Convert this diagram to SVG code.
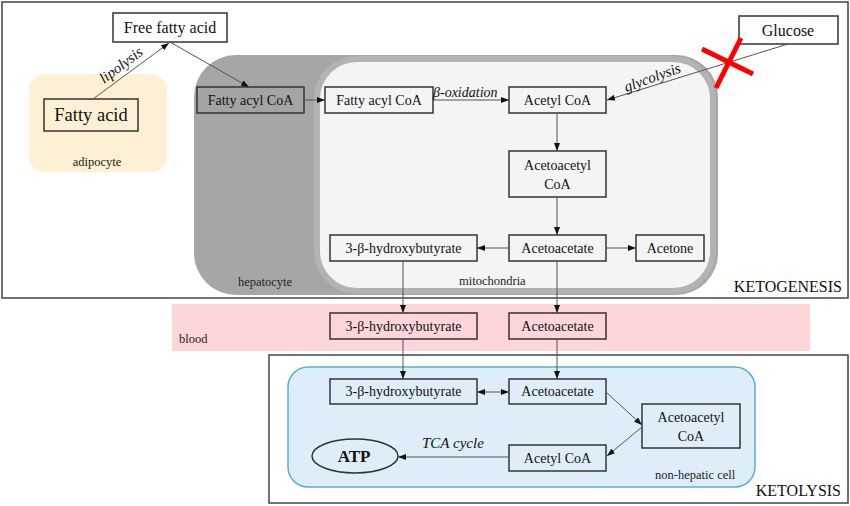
<svg xmlns="http://www.w3.org/2000/svg" width="850" height="506" viewBox="0 0 850 506">
<style>
text{font-family:"Liberation Serif","Times New Roman",serif;fill:#111}
.lb{font-size:14px;text-anchor:middle}
.sm{font-size:12.5px;fill:#222}
.it{font-style:italic}
.box{stroke:#333;stroke-width:1.5}
.c{fill:none;stroke:#555;stroke-width:1}
</style>
<defs>
<marker id="ah" viewBox="0 0 8 6" refX="8" refY="3" markerWidth="8" markerHeight="6" markerUnits="userSpaceOnUse" orient="auto-start-reverse">
<path d="M0,0 L8,3 L0,6 Z" fill="#111"/>
</marker>
</defs>
<g id="ketogenesis-frame">
<rect x="2" y="2" width="846" height="296" fill="#fff" stroke="#444" stroke-width="1.5"/>
<text x="842" y="292" font-size="16" text-anchor="end">KETOGENESIS</text>
</g>
<g id="blood-band">
<rect x="172" y="304" width="638" height="47" fill="#fdd6d9"/>
<text class="sm" x="179" y="343">blood</text>
</g>
<g id="ketolysis-frame">
<rect x="269" y="355" width="579" height="148" fill="#fff" stroke="#444" stroke-width="1.5"/>
<text x="841" y="496" font-size="16" text-anchor="end">KETOLYSIS</text>
</g>
<g id="adipocyte">
<rect x="29" y="74" width="138" height="98" rx="16" fill="#fdf0d4"/>
<text class="sm" x="97" y="166" text-anchor="middle">adipocyte</text>
</g>
<g id="hepatocyte">
<rect x="194" y="55" width="524" height="240" rx="42" fill="#a6a6a6"/>
<text class="sm" x="238" y="286">hepatocyte</text>
</g>
<g id="mitochondria">
<rect x="317" y="59" width="396" height="232" rx="40" fill="#f4f4f4" stroke="#b3b3b3" stroke-width="6"/>
<text class="sm" x="459" y="285">mitochondria</text>
</g>
<g id="non-hepatic-cell">
<rect x="288" y="367" width="467" height="120" rx="20" fill="#deeef8" stroke="#5aaed6" stroke-width="1.5"/>
<text class="sm" x="655" y="479">non-hepatic cell</text>
</g>
<g id="free-fatty-acid">
<rect class="box" x="113" y="13" width="114" height="29" fill="#fff"/>
<text x="170" y="33" font-size="16" text-anchor="middle">Free fatty acid</text>
</g>
<g id="fatty-acid">
<rect class="box" x="44" y="99" width="94" height="32" fill="#fdf0d4"/>
<text x="91" y="121" font-size="18.5" text-anchor="middle">Fatty acid</text>
</g>
<g id="glucose">
<rect class="box" x="739" y="16" width="99" height="28" fill="#fff"/>
<text x="788" y="36" font-size="16" text-anchor="middle">Glucose</text>
</g>
<g id="fatty-acyl-coa-hep">
<rect class="box" x="197" y="87" width="107" height="26" fill="#a4a4a4"/>
<text class="lb" x="250.5" y="105">Fatty acyl CoA</text>
</g>
<g id="fatty-acyl-coa-mito">
<rect class="box" x="325" y="87" width="108" height="26" fill="#f4f4f4"/>
<text class="lb" x="379" y="105">Fatty acyl CoA</text>
</g>
<g id="acetyl-coa-mito">
<rect class="box" x="509" y="87" width="97" height="26" fill="#f4f4f4"/>
<text class="lb" x="557.5" y="105">Acetyl CoA</text>
</g>
<g id="acetoacetyl-coa-mito">
<rect class="box" x="509" y="151" width="97" height="46" fill="#f4f4f4"/>
<text class="lb" x="557.5" y="170">Acetoacetyl</text>
<text class="lb" x="557.5" y="189">CoA</text>
</g>
<g id="acetoacetate-mito">
<rect class="box" x="509" y="235" width="97" height="26" fill="#f4f4f4"/>
<text class="lb" x="557.5" y="253">Acetoacetate</text>
</g>
<g id="hydroxybutyrate-mito">
<rect class="box" x="330" y="235" width="147" height="26" fill="#f4f4f4"/>
<text class="lb" x="403.5" y="253">3-β-hydroxybutyrate</text>
</g>
<g id="acetone">
<rect class="box" x="636" y="235" width="68" height="26" fill="#f4f4f4"/>
<text class="lb" x="670" y="253">Acetone</text>
</g>
<g id="hydroxybutyrate-blood">
<rect class="box" x="330" y="313" width="147" height="26" fill="#fdd6d9"/>
<text class="lb" x="403.5" y="331">3-β-hydroxybutyrate</text>
</g>
<g id="acetoacetate-blood">
<rect class="box" x="509" y="313" width="97" height="26" fill="#fdd6d9"/>
<text class="lb" x="557.5" y="331">Acetoacetate</text>
</g>
<g id="hydroxybutyrate-cell">
<rect class="box" x="330" y="379" width="147" height="25" fill="#deeef8"/>
<text class="lb" x="403.5" y="396">3-β-hydroxybutyrate</text>
</g>
<g id="acetoacetate-cell">
<rect class="box" x="509" y="379" width="97" height="25" fill="#deeef8"/>
<text class="lb" x="557.5" y="396">Acetoacetate</text>
</g>
<g id="acetoacetyl-coa-cell">
<rect class="box" x="642" y="404" width="98" height="44" fill="#deeef8"/>
<text class="lb" x="691" y="422">Acetoacetyl</text>
<text class="lb" x="691" y="441">CoA</text>
</g>
<g id="acetyl-coa-cell">
<rect class="box" x="509" y="445" width="97" height="26" fill="#deeef8"/>
<text class="lb" x="557.5" y="463">Acetyl CoA</text>
</g>
<g id="atp">
<ellipse cx="355" cy="456" rx="43" ry="17" fill="#deeef8" stroke="#333" stroke-width="1.5"/>
<text x="354" y="462" font-size="17" font-weight="bold" text-anchor="middle">ATP</text>
</g>
<g id="connectors">
<path class="c" d="M93,99 L169,43" marker-end="url(#ah)"/>
<path class="c" d="M170,42 L249,87" marker-end="url(#ah)"/>
<path class="c" d="M304,100 L325,100" marker-end="url(#ah)"/>
<path class="c" d="M433,100 L509,100" marker-end="url(#ah)"/>
<path class="c" d="M788,44 L607,100" stroke="#666" marker-end="url(#ah)"/>
<path class="c" d="M557,113 L557,151" stroke="#777" marker-end="url(#ah)"/>
<path class="c" d="M557,197 L557,235" stroke="#777" marker-end="url(#ah)"/>
<path class="c" d="M509,248 L477,248" stroke="#777" marker-end="url(#ah)"/>
<path class="c" d="M606,248 L636,248" stroke="#333" stroke-width="1.5" marker-end="url(#ah)"/>
<path class="c" d="M403,261 L403,313" stroke="#333" marker-end="url(#ah)"/>
<path class="c" d="M557,261 L557,313" stroke="#888" marker-end="url(#ah)"/>
<path class="c" d="M403,339 L403,379" stroke="#333" marker-end="url(#ah)"/>
<path class="c" d="M557,339 L557,379" stroke="#888" marker-end="url(#ah)"/>
<path class="c" d="M477,392 L509,392" stroke="#333" marker-start="url(#ah)" marker-end="url(#ah)"/>
<path class="c" d="M607,393 L642,425" marker-end="url(#ah)"/>
<path class="c" d="M642,427 L607,456" marker-end="url(#ah)"/>
<path class="c" d="M509,457 L398,457" marker-end="url(#ah)"/>
<text x="124" y="69" font-size="15" class="it" text-anchor="middle" transform="rotate(-37 124 69)">lipolysis</text>
<text x="654" y="82" font-size="15" class="it" text-anchor="middle" transform="rotate(-20 654 82)">glycolysis</text>
<text x="433" y="97" font-size="14" class="it">β-oxidation</text>
<text x="422" y="448" font-size="15" class="it">TCA cycle</text>
<g id="block-x" stroke="#ff0000" stroke-width="5" stroke-linecap="butt">
<line x1="702" y1="49" x2="753" y2="74"/>
<line x1="741" y1="38" x2="716" y2="88"/>
</g>
</g>
</svg>
